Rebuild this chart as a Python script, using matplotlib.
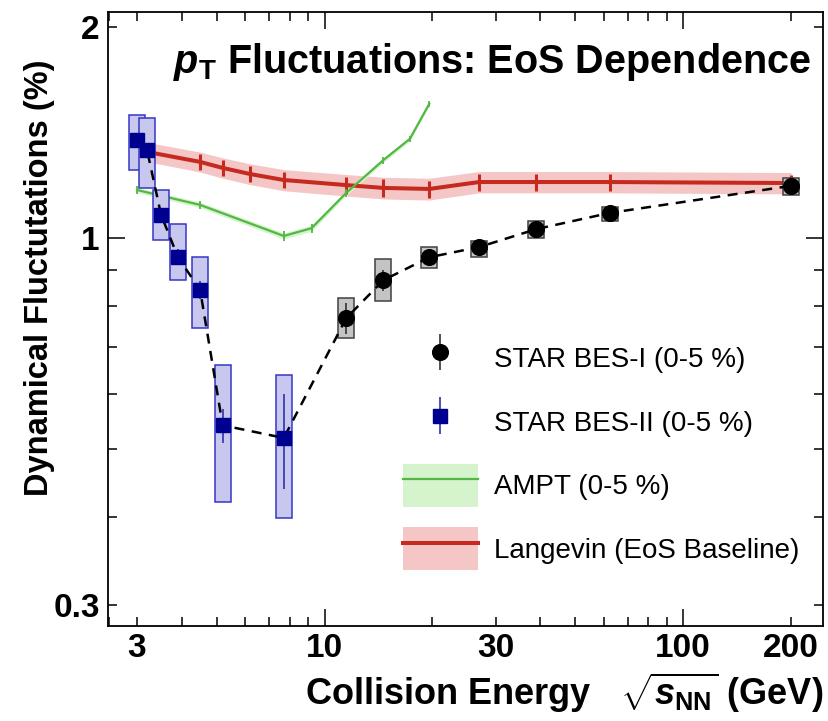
import numpy as np
import matplotlib
matplotlib.use('Agg')
import matplotlib.pyplot as plt
from matplotlib.patches import Rectangle, Patch
from matplotlib.lines import Line2D
from matplotlib.ticker import FixedLocator, FuncFormatter
from matplotlib.legend_handler import HandlerErrorbar

# STAR BES-II (0-5 %)
bes2_e = [3.0, 3.2, 3.5, 3.9, 4.5, 5.2, 7.7]
bes2_y = [1.38, 1.335, 1.08, 0.94, 0.843, 0.541, 0.519]
bes2_stat = [0.02, 0.02, 0.025, 0.025, 0.025, 0.03, 0.08]
bes2_sys_lo = [1.25, 1.18, 0.993, 0.871, 0.744, 0.420, 0.399]
bes2_sys_hi = [1.50, 1.484, 1.171, 1.047, 0.939, 0.659, 0.639]

# STAR BES-I (0-5 %)
bes1_e = [11.5, 14.6, 19.6, 27, 39, 62.4, 200]
bes1_y = [0.769, 0.871, 0.939, 0.971, 1.030, 1.086, 1.187]
bes1_stat = [0.04, 0.03, 0.01, 0.01, 0.01, 0.01, 0.01]
bes1_sys_lo = [0.720, 0.813, 0.906, 0.940, 1.0, 1.057, 1.152]
bes1_sys_hi = [0.821, 0.933, 0.971, 0.991, 1.058, 1.108, 1.218]

# Langevin (EoS baseline)
lang_e = [3.0, 3.2, 4.5, 5.2, 6.2, 7.7, 11.5, 14.6, 19.6, 27, 39, 62.4, 200]
lang_y = [1.34, 1.327, 1.284, 1.259, 1.234, 1.21, 1.19, 1.179, 1.175, 1.202, 1.202, 1.202, 1.198]
lang_err = [0.033] * 13
lang_band = [0.042] * 13

# AMPT (0-5 %)
ampt_e = [3.0, 4.5, 7.7, 9.2, 11.5, 14.6, 17.3, 19.6]
ampt_y = [1.171, 1.115, 1.007, 1.033, 1.160, 1.292, 1.385, 1.554]
ampt_err = [0.015] * 8
ampt_band = [0.01] * 8

plt.rcParams['font.family'] = ['Liberation Sans', 'DejaVu Sans']
plt.rcParams['font.weight'] = 'bold'
plt.rcParams['axes.labelweight'] = 'bold'
plt.rcParams['mathtext.fontset'] = 'custom'
plt.rcParams['mathtext.rm'] = 'Liberation Sans:bold'
plt.rcParams['mathtext.it'] = 'Liberation Sans:bold:italic'
plt.rcParams['mathtext.bf'] = 'Liberation Sans:bold'

fig = plt.figure(figsize=(8.29, 7.21), dpi=100)
ax = fig.add_axes([108 / 829, 95 / 721, 715 / 829, 614 / 721])
ax.set_xscale('log')
ax.set_yscale('log')
ax.set_xlim(2.49, 245.6)
ax.set_ylim(0.28, 2.10)

red = '#c62a1e'
green = '#52b843'
navy = '#000090'
half_w = 1.053

# Langevin band + line
ax.fill_between(lang_e, np.array(lang_y) - lang_band, np.array(lang_y) + lang_band,
                color='#f5c6c6', lw=0, zorder=1)
ax.errorbar(lang_e, lang_y, yerr=lang_err, color=red, lw=2.9, elinewidth=2.2,
            capsize=0, zorder=2)

# AMPT band + line
ax.fill_between(ampt_e, np.array(ampt_y) - ampt_band, np.array(ampt_y) + ampt_band,
                color='#d5f3cc', lw=0, zorder=1)
ax.errorbar(ampt_e, ampt_y, yerr=ampt_err, color=green, lw=1.6, elinewidth=1.3,
            capsize=0, zorder=2)

# systematic boxes
for e, lo, hi in zip(bes2_e, bes2_sys_lo, bes2_sys_hi):
    ax.add_patch(Rectangle((e / half_w, lo), e * half_w - e / half_w, hi - lo,
                           facecolor='#c8c8ee', edgecolor='#3535c8', lw=1.1, zorder=3))
for e, lo, hi in zip(bes1_e, bes1_sys_lo, bes1_sys_hi):
    ax.add_patch(Rectangle((e / half_w, lo), e * half_w - e / half_w, hi - lo,
                           facecolor='#c4c4c4', edgecolor='#404040', lw=1.1, zorder=3))

# dashed line through all data
all_e = bes2_e + bes1_e
all_y = bes2_y + bes1_y
ax.plot(all_e, all_y, color='black', ls=(0, (4, 3)), lw=1.8, zorder=4)

h1 = ax.errorbar(bes1_e, bes1_y, yerr=bes1_stat, fmt='o', ms=11.3, color='black',
                 ecolor='#333333', elinewidth=1.2, capsize=0, zorder=5)
h2 = ax.errorbar(bes2_e, bes2_y, yerr=bes2_stat, fmt='s', ms=10.5, color=navy,
                 ecolor='#3030b0', elinewidth=1.2, capsize=0, zorder=5)

h3 = (Patch(facecolor='#d5f3cc', lw=0), Line2D([], [], color=green, lw=1.6))
h4 = (Patch(facecolor='#f5c6c6', lw=0), Line2D([], [], color=red, lw=2.9))

leg = ax.legend([h1, h2, h3, h4],
                ['STAR BES-I (0-5 %)', 'STAR BES-II (0-5 %)', 'AMPT (0-5 %)',
                 'Langevin (EoS Baseline)'],
                handler_map={h1: HandlerErrorbar(yerr_size=0.66),
                             h2: HandlerErrorbar(yerr_size=0.66)},
                loc='upper left', bbox_to_anchor=((403 - 108) / 715, (626 - 337) / 614),
                frameon=False, borderpad=0, borderaxespad=0, handlelength=2.7,
                handleheight=2.0, handletextpad=0.58, labelspacing=0.74,
                prop={'size': 20, 'weight': 'normal'})

# ticks
ax.xaxis.set_major_locator(FixedLocator([10, 100]))
ax.xaxis.set_minor_locator(FixedLocator([2.5, 3, 4, 5, 6, 7, 8, 9, 20, 30, 40, 50, 60,
                                         70, 80, 90, 200]))
ax.xaxis.set_major_formatter(FuncFormatter(lambda v, p: '%g' % v))
ax.xaxis.set_minor_formatter(FuncFormatter(lambda v, p: '%g' % v if v in (3, 30, 200) else ''))
ax.yaxis.set_major_locator(FixedLocator([1]))
ax.yaxis.set_minor_locator(FixedLocator([0.3, 0.4, 0.5, 0.6, 0.7, 0.8, 0.9, 2]))
ax.yaxis.set_major_formatter(FuncFormatter(lambda v, p: '%g' % v))
ax.yaxis.set_minor_formatter(FuncFormatter(lambda v, p: '%g' % v if v in (0.3, 2) else ''))
ax.tick_params(which='both', direction='in', top=True, right=True, labelsize=24, width=1.1)
ax.tick_params(which='major', length=12)
ax.tick_params(which='minor', length=6.5)
ax.tick_params(axis='x', which='both', pad=5)
ax.tick_params(axis='y', which='both', pad=6)
for s in ax.spines.values():
    s.set_linewidth(1.3)

ax.set_ylabel('Dynamical Fluctutations (%)', fontsize=23.5)
ax.yaxis.set_label_coords(-0.074, 0.567)
ax.set_xlabel(r'Collision Energy   $\sqrt{s_{\rm NN}}$ (GeV)', fontsize=26, ha='right')
ax.xaxis.set_label_coords(1.0, -0.073)

ax.text(0.983, 0.9007, r'$p_{\rm T}$ Fluctuations: EoS Dependence', transform=ax.transAxes,
        ha='right', va='baseline', fontsize=28.5)

fig.savefig('out.png', dpi=100)
